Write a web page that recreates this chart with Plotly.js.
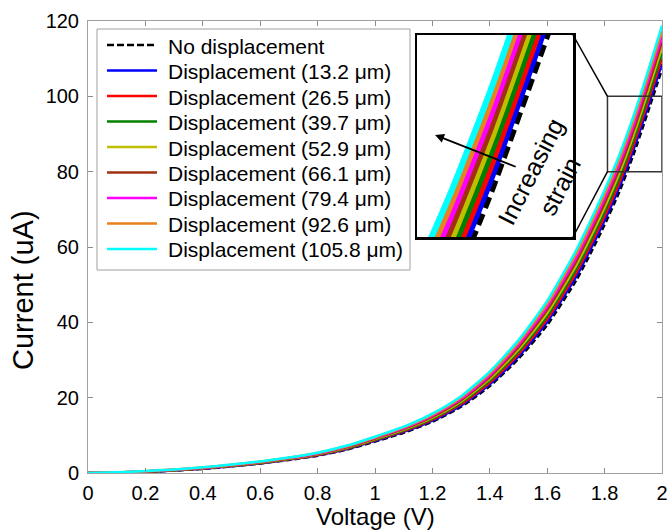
<!DOCTYPE html>
<html>
<head>
<meta charset="utf-8">
<script src="https://cdn.plot.ly/plotly-3.0.1.min.js"></script>
<style>html,body{margin:0;padding:0;background:#fff;}#chart{width:672px;height:531px;}</style>
</head>
<body>
<div id="chart"></div>
<script>
// ---- data ----
var voltage = [0, 0.1, 0.2, 0.3, 0.4, 0.5, 0.6, 0.7, 0.8, 0.9, 1.0, 1.1, 1.2, 1.3, 1.4, 1.5, 1.6, 1.7, 1.75, 1.8, 1.85, 1.9, 1.95, 2.0];

var noDisp  = [0, 0.02, 0.28, 0.64, 1.10, 1.76, 2.52, 3.48, 4.60, 6.18, 8.36, 10.7, 13.62, 17.6, 23.08, 30.32, 39.3, 51.0, 58.18, 65.9, 74.42, 84.38, 95.64, 107.2];
var disp132 = [0, 0.04, 0.31, 0.68, 1.15, 1.82, 2.59, 3.56, 4.70, 6.31, 8.52, 10.9, 13.89, 17.95, 23.56, 30.94, 40.1, 52.0, 59.26, 67.05, 75.64, 85.66, 96.98, 108.65];
var disp265 = [0, 0.06, 0.34, 0.72, 1.20, 1.88, 2.66, 3.64, 4.80, 6.44, 8.68, 11.1, 14.16, 18.3, 24.04, 31.56, 40.9, 53.0, 60.34, 68.2, 76.86, 86.94, 98.32, 110.1];
var disp397 = [0, 0.08, 0.37, 0.76, 1.25, 1.94, 2.73, 3.72, 4.90, 6.57, 8.84, 11.3, 14.43, 18.65, 24.52, 32.18, 41.7, 54.0, 61.42, 69.35, 78.08, 88.22, 99.66, 111.55];
var disp529 = [0, 0.10, 0.40, 0.80, 1.30, 2.00, 2.80, 3.80, 5.00, 6.70, 9.00, 11.5, 14.70, 19.0, 25.0, 32.8, 42.5, 55.0, 62.5, 70.5, 79.3, 89.5, 101.0, 113.0];
var disp661 = [0, 0.12, 0.43, 0.84, 1.35, 2.06, 2.87, 3.88, 5.10, 6.83, 9.16, 11.7, 14.97, 19.35, 25.48, 33.42, 43.3, 56.0, 63.58, 71.65, 80.52, 90.78, 102.34, 114.45];
var disp794 = [0, 0.14, 0.46, 0.88, 1.40, 2.12, 2.94, 3.96, 5.20, 6.96, 9.32, 11.9, 15.24, 19.7, 25.96, 34.04, 44.1, 57.0, 64.66, 72.8, 81.74, 92.06, 103.68, 115.9];
var disp926 = [0, 0.16, 0.49, 0.92, 1.45, 2.18, 3.01, 4.04, 5.30, 7.09, 9.48, 12.1, 15.51, 20.05, 26.44, 34.66, 44.9, 58.0, 65.74, 73.95, 82.96, 93.34, 105.02, 117.35];
var disp1058= [0, 0.18, 0.52, 0.96, 1.50, 2.24, 3.08, 4.12, 5.40, 7.22, 9.64, 12.3, 15.78, 20.4, 26.92, 35.28, 45.7, 59.0, 66.82, 75.1, 84.18, 94.62, 106.36, 118.8];

var seriesNames = ['No displacement', 'Displacement (13.2 \u03bcm)', 'Displacement (26.5 \u03bcm)', 'Displacement (39.7 \u03bcm)',
  'Displacement (52.9 \u03bcm)', 'Displacement (66.1 \u03bcm)', 'Displacement (79.4 \u03bcm)', 'Displacement (92.6 \u03bcm)', 'Displacement (105.8 \u03bcm)'];
var seriesValues = [noDisp, disp132, disp265, disp397, disp529, disp661, disp794, disp926, disp1058];
var seriesColors = ['#000000', '#0000ff', '#ff0000', '#008000', '#bfbf00', '#a0300f', '#ff00ff', '#e8821e', '#00ffff'];

var xTickVals = [0, 0.2, 0.4, 0.6, 0.8, 1, 1.2, 1.4, 1.6, 1.8, 2];
var xTickText = ['0', '0.2', '0.4', '0.6', '0.8', '1', '1.2', '1.4', '1.6', '1.8', '2'];
var yTickVals = [0, 20, 40, 60, 80, 100, 120];

var zoomV = [1.81, 2.0];   // zoom window (V)
var zoomI = [80, 100];     // zoom window (uA)

// ---- layout geometry (pixels) ----
var W = 672, H = 531, ML = 88, MR = 10, MT = 21, MB = 58;
var PW = W - ML - MR, PH = H - MT - MB;
function px(xp) { return (xp - ML) / PW; }
function py(yp) { return (H - MB - yp) / PH; }

var insetDomX = [px(417), px(573)];
var insetDomY = [py(237), py(35)];
var FONT = 'Liberation Sans, Arial, Helvetica, sans-serif';

var traces = [];
for (var i = 0; i < seriesValues.length; i++) {
  traces.push({
    x: voltage, y: seriesValues[i], type: 'scatter', mode: 'lines', name: seriesNames[i],
    line: {color: seriesColors[i], width: 2.5, shape: 'spline', smoothing: 0.6, dash: i === 0 ? '6px,3px' : 'solid'},
    xaxis: 'x', yaxis: 'y', hoverinfo: 'skip', showlegend: false
  });
}
for (var j = 0; j < seriesValues.length; j++) {
  traces.push({
    x: voltage, y: seriesValues[j], type: 'scatter', mode: 'lines', showlegend: false,
    line: {color: seriesColors[j], width: 6, shape: 'spline', smoothing: 0.6, dash: j === 0 ? '12px,6px' : 'solid'},
    xaxis: 'x2', yaxis: 'y2', hoverinfo: 'skip'
  });
}

var xr = [0, 2], yr = [0, 120];
function dx(f) { return xr[0] + f * (xr[1] - xr[0]); }
function dy(f) { return yr[0] + f * (yr[1] - yr[0]); }

var shapes = [
  {type: 'rect', xref: 'x', yref: 'y', x0: zoomV[0], x1: zoomV[1], y0: zoomI[0], y1: zoomI[1],
   line: {color: '#333', width: 1.5}, layer: 'above'},
  {type: 'line', xref: 'x', yref: 'y', x0: dx(insetDomX[1]), y0: dy(insetDomY[1]), x1: zoomV[0], y1: zoomI[1],
   line: {color: '#000', width: 1.5}},
  {type: 'line', xref: 'x', yref: 'y', x0: dx(insetDomX[1]), y0: dy(insetDomY[0]), x1: zoomV[0], y1: zoomI[0],
   line: {color: '#000', width: 1.5}},
  // legend box
  {type: 'rect', xref: 'paper', yref: 'paper', x0: px(97), x1: px(410), y0: py(270), y1: py(29),
   line: {color: '#a0a0a0', width: 1}, fillcolor: '#ffffff', layer: 'above'}
];

var annotations = [
  {xref: 'x2', yref: 'y2', x: 1.832, y: 90.1, axref: 'x2', ayref: 'y2', ax: 1.932, ay: 86.9,
   text: '', showarrow: true, arrowhead: 2, arrowsize: 1, arrowwidth: 1.8, arrowcolor: '#000'},
  {xref: 'x2', yref: 'y2', x: 1.966, y: 85.7, text: 'Increasing<br>strain', showarrow: false,
   textangle: -63, font: {family: FONT, size: 25, color: '#000'}, align: 'center'},
  {xref: 'paper', yref: 'paper', x: 0.5, y: py(516), xanchor: 'center', yanchor: 'middle',
   text: 'Voltage (V)', showarrow: false, font: {family: FONT, size: 24, color: '#000'}},
  {xref: 'paper', yref: 'paper', x: px(23), y: py(290), xanchor: 'center', yanchor: 'middle',
   text: 'Current (uA)', textangle: -90, showarrow: false, font: {family: FONT, size: 29, color: '#000'}}
];

// legend drawn from series names and colours
for (var k = 0; k < seriesNames.length; k++) {
  var yc = 45 + 25.5 * k;
  shapes.push({type: 'line', xref: 'paper', yref: 'paper', x0: px(107), x1: px(157), y0: py(yc), y1: py(yc),
    line: {color: seriesColors[k], width: 2.5, dash: k === 0 ? '7px,3px' : 'solid'}, layer: 'above'});
  annotations.push({xref: 'paper', yref: 'paper', x: px(166), y: py(yc + 1), xanchor: 'left', yanchor: 'middle',
    text: seriesNames[k], showarrow: false, font: {family: FONT, size: 21, color: '#000'}});
}

var layout = {
  width: W, height: H,
  margin: {l: ML, r: MR, t: MT, b: MB, pad: 0},
  paper_bgcolor: '#ffffff', plot_bgcolor: '#ffffff',
  font: {family: FONT, size: 20, color: '#000'},
  showlegend: false,
  xaxis: {
    domain: [0, 1], range: xr, tickmode: 'array', tickvals: xTickVals, ticktext: xTickText,
    ticks: 'inside', ticklen: 5, tickcolor: '#8c8c8c', tickwidth: 1,
    showline: true, linecolor: '#a0a0a0', linewidth: 1, mirror: 'ticks',
    showgrid: false, zeroline: false, tickfont: {size: 20}, ticklabelstandoff: 2
  },
  yaxis: {
    domain: [0, 1], range: yr, tickmode: 'array', tickvals: yTickVals,
    ticks: 'inside', ticklen: 5, tickcolor: '#8c8c8c', tickwidth: 1,
    showline: true, linecolor: '#a0a0a0', linewidth: 1, mirror: 'ticks',
    showgrid: false, zeroline: false, tickfont: {size: 20}, ticklabelstandoff: 4
  },
  xaxis2: {
    domain: insetDomX, range: zoomV, anchor: 'y2', showticklabels: false, ticks: '',
    showline: true, linecolor: '#000', linewidth: 2.5, mirror: true, showgrid: false, zeroline: false
  },
  yaxis2: {
    domain: insetDomY, range: zoomI, anchor: 'x2', showticklabels: false, ticks: '',
    showline: true, linecolor: '#000', linewidth: 2.5, mirror: true, showgrid: false, zeroline: false
  },
  shapes: shapes,
  annotations: annotations
};

Plotly.newPlot('chart', traces, layout, {displayModeBar: false, staticPlot: true});
</script>
</body>
</html>
